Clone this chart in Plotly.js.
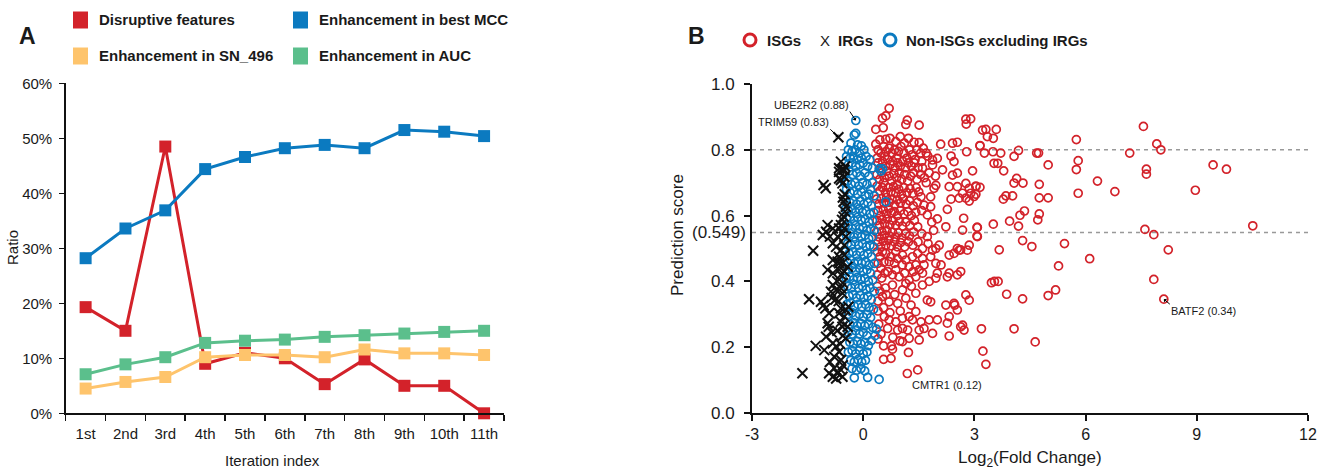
<!DOCTYPE html>
<html><head><meta charset="utf-8">
<script src="https://cdn.plot.ly/plotly-3.0.1.min.js"></script>
<style>html,body{margin:0;padding:0;background:#fff}#chart{width:1326px;height:470px}</style>
</head><body><div id="chart"></div>
<script>
// ---------- Panel A data ----------
const iterations = ['1st','2nd','3rd','4th','5th','6th','7th','8th','9th','10th','11th'];
const disruptiveFeatures = [19.3,15.0,48.5,9.0,11.0,10.0,5.3,9.8,5.0,5.0,0];
const bestMCC = [28.2,33.6,36.9,44.4,46.6,48.2,48.8,48.2,51.5,51.2,50.4];
const sn496 = [4.5,5.7,6.6,10.2,10.6,10.6,10.2,11.6,10.9,10.9,10.6];
const aucGain = [7.1,8.9,10.2,12.8,13.2,13.4,13.9,14.2,14.5,14.8,15.0];
const seriesNamesA = ['Disruptive features','Enhancement in best MCC','Enhancement in SN_496','Enhancement in AUC'];
const yTicksA = [0,10,20,30,40,50,60];
const yTickTextA = ['0%','10%','20%','30%','40%','50%','60%'];

// ---------- Panel B data: [log2 fold change, prediction score] ----------
const isgPoints = [
[0.70,0.926],[0.52,0.896],[0.61,0.903],[0.34,0.862],[0.54,0.867],[1.15,0.877],[1.19,0.89],[1.51,0.875],[2.77,0.893],[2.90,0.894],[2.78,0.878],[3.22,0.86],
[0.34,0.817],[0.61,0.832],[0.88,0.825],[1.11,0.82],[1.37,0.823],[1.51,0.822],[2.09,0.817],[2.41,0.82],[2.54,0.823],[2.79,0.794],[3.15,0.812],
[0.40,0.80],[0.48,0.79],[0.55,0.81],[0.62,0.795],[0.70,0.805],[0.78,0.79],[0.85,0.80],[0.95,0.795],[1.02,0.81],[1.10,0.79],[1.25,0.80],[1.32,0.785],[1.45,0.80],[1.55,0.79],[1.62,0.805],[1.70,0.79],[0.45,0.83],[0.72,0.835],[1.00,0.84],[1.22,0.835],[0.58,0.78],[0.90,0.775],[1.18,0.775],[1.40,0.77],[0.38,0.775],
[0.40,0.76],[0.47,0.745],[0.52,0.765],[0.60,0.75],[0.66,0.77],[0.73,0.755],[0.80,0.765],[0.86,0.745],[0.93,0.76],[1.00,0.75],[1.07,0.765],[1.14,0.745],[1.22,0.76],[1.30,0.75],[1.38,0.76],[1.48,0.745],[1.58,0.765],[1.74,0.781],[1.87,0.769],[2.00,0.774],[1.87,0.754],[2.37,0.781],[2.45,0.764],[2.14,0.739],[2.41,0.723],[2.54,0.729],[2.95,0.736],
[0.37,0.725],[0.44,0.71],[0.50,0.73],[0.57,0.715],[0.63,0.735],[0.70,0.72],[0.77,0.705],[0.83,0.728],[0.90,0.715],[0.97,0.73],[1.04,0.71],[1.12,0.725],[1.20,0.705],[1.28,0.72],[1.36,0.73],[1.45,0.71],[1.55,0.725],[1.65,0.715],[1.78,0.73],[1.95,0.72],[0.55,0.70],[0.92,0.695],[1.60,0.745],[1.70,0.70],
[2.32,0.688],[2.54,0.688],[2.77,0.698],[2.86,0.683],[3.04,0.688],[1.91,0.683],[1.96,0.692],[2.90,0.668],[2.68,0.668],[2.99,0.658],[2.37,0.65],[2.59,0.653],[2.77,0.653],[2.86,0.644],[2.27,0.619],[1.64,0.632],[1.82,0.627],[1.56,0.657],[1.82,0.657],[1.73,0.602],
[0.38,0.69],[0.45,0.675],[0.52,0.685],[0.60,0.67],[0.68,0.685],[0.75,0.672],[0.82,0.688],[0.88,0.668],[0.96,0.68],[1.03,0.665],[1.10,0.685],[1.18,0.67],[1.26,0.682],[1.34,0.668],[1.43,0.685],[1.50,0.672],
[0.36,0.65],[0.42,0.635],[0.49,0.652],[0.56,0.638],[0.63,0.655],[0.70,0.64],[0.78,0.65],[0.85,0.632],[0.92,0.648],[1.00,0.638],[1.08,0.652],[1.16,0.635],[1.25,0.645],[1.35,0.63],[1.46,0.64],
[0.40,0.615],[0.47,0.60],[0.54,0.618],[0.62,0.605],[0.69,0.62],[0.76,0.608],[0.84,0.612],[0.92,0.60],[1.00,0.615],[1.10,0.605],[1.20,0.612],[1.30,0.60],[1.42,0.61],[1.58,0.615],
[2.71,0.592],[2.23,0.566],[2.68,0.556],[3.08,0.564],[3.08,0.536],[2.86,0.51],[2.63,0.496],[2.54,0.50],[2.05,0.51],[1.96,0.50],[1.60,0.50],[1.73,0.536],[1.47,0.566],
[0.37,0.585],[0.44,0.57],[0.51,0.588],[0.58,0.575],[0.65,0.59],[0.72,0.572],[0.80,0.585],[0.88,0.57],[0.97,0.582],[1.06,0.568],[1.15,0.58],[1.26,0.57],[1.38,0.585],[1.85,0.58],[2.00,0.59],
[0.36,0.55],[0.43,0.535],[0.50,0.552],[0.57,0.54],[0.64,0.555],[0.71,0.538],[0.79,0.55],[0.87,0.535],[0.95,0.548],[1.04,0.532],[1.14,0.545],[1.25,0.538],[1.36,0.55],[1.58,0.545],[1.90,0.555],
[0.40,0.52],[0.47,0.505],[0.54,0.522],[0.61,0.51],[0.68,0.525],[0.76,0.508],[0.84,0.52],[0.92,0.505],[1.01,0.518],[1.12,0.505],[1.22,0.52],[1.34,0.51],[1.48,0.52],[1.75,0.515],
[0.61,0.485],[0.88,0.49],[1.06,0.48],[1.33,0.475],[1.47,0.485],[1.60,0.47],[1.82,0.475],[1.87,0.495],[2.32,0.48],[2.45,0.485],[2.59,0.495],[2.81,0.495],[0.70,0.46],[1.06,0.45],[1.24,0.445],[1.42,0.45],[1.51,0.435],[1.64,0.45],[1.96,0.455],[2.10,0.45],[2.32,0.425],[2.00,0.425],[2.27,0.414],[2.63,0.43],[2.54,0.42],[0.66,0.43],[0.79,0.42],[0.97,0.414],[1.24,0.404],[1.42,0.414],[1.60,0.425],[1.78,0.40],[1.96,0.41],
[0.38,0.49],[0.45,0.475],[0.52,0.49],[0.40,0.455],[0.48,0.44],[0.56,0.458],[0.75,0.475],[0.84,0.455],[0.92,0.47],[1.15,0.465],[0.38,0.42],[0.50,0.41],[0.58,0.425],[0.88,0.435],[1.12,0.425],[1.35,0.43],
[0.79,0.389],[1.06,0.374],[1.15,0.394],[1.42,0.364],[1.60,0.389],[1.73,0.343],[1.82,0.338],[2.23,0.328],[2.45,0.333],[2.54,0.313],[2.77,0.359],[2.86,0.343],[0.52,0.354],[0.70,0.338],[0.93,0.333],[1.15,0.349],[1.29,0.328],[1.42,0.308],
[0.38,0.385],[0.45,0.37],[0.60,0.38],[0.40,0.34],[0.62,0.36],[0.85,0.36],[0.40,0.31],[0.55,0.32],[0.72,0.305],[1.00,0.31],[1.30,0.385],
[0.57,0.293],[0.70,0.283],[0.88,0.277],[1.06,0.288],[1.24,0.293],[1.33,0.283],[1.56,0.277],[1.78,0.283],[2.00,0.283],[2.32,0.293],[2.27,0.273],[0.66,0.257],[0.93,0.252],[1.06,0.257],[1.20,0.252],[1.51,0.252],[1.64,0.257],[1.87,0.242],[2.32,0.234],[2.63,0.262],[2.72,0.252],[2.47,0.328],[2.68,0.267],[1.06,0.217],[1.24,0.227],[1.51,0.222],[0.99,0.219],[0.42,0.27],[0.48,0.24],[0.40,0.225],[0.80,0.23],
[0.79,0.194],[0.55,0.204],[0.76,0.204],[0.55,0.163],[0.75,0.166],[1.22,0.184],[1.47,0.131],[1.19,0.12],
[3.31,0.862],[3.59,0.862],[3.35,0.84],[3.51,0.835],[3.15,0.813],[3.27,0.79],[3.50,0.794],[3.71,0.79],[4.19,0.798],[4.07,0.78],[4.68,0.79],[4.73,0.79],[5.75,0.831],[5.80,0.767],[5.75,0.74],[7.19,0.79],[7.56,0.871],
[3.53,0.759],[3.63,0.759],[3.79,0.736],[4.99,0.754],[4.14,0.713],[4.07,0.699],[4.31,0.699],[4.75,0.695],[3.04,0.69],[3.15,0.686],[3.04,0.665],[3.85,0.66],[3.78,0.65],[4.03,0.66],[4.75,0.654],[4.99,0.654],[5.80,0.668],[6.32,0.705],[6.79,0.673],
[4.35,0.614],[4.23,0.601],[4.75,0.605],[4.71,0.587],[3.95,0.583],[4.19,0.568],[3.51,0.574],[3.07,0.564],[3.07,0.538],[4.30,0.524],[4.55,0.506],[5.43,0.515],[3.67,0.496],[6.11,0.469],[5.27,0.447],
[3.46,0.396],[3.54,0.40],[3.64,0.40],[3.87,0.361],[4.30,0.347],[4.99,0.357],[5.19,0.374],[3.19,0.256],[4.07,0.256],[4.64,0.216],[3.23,0.188],[3.31,0.148],
[7.92,0.818],[8.03,0.80],[7.64,0.741],[7.64,0.726],[9.44,0.754],[9.80,0.741],[8.96,0.677],[10.51,0.569],[7.60,0.558],[7.84,0.542],[8.23,0.496],[7.84,0.406],[8.11,0.346]
];
const irgPoints = [
[-0.67,0.838],
[-0.60,0.764],[-0.53,0.741],[-0.49,0.749],[-0.57,0.739],[-0.65,0.744],[-0.51,0.718],[-0.60,0.708],[-0.56,0.698],[-0.65,0.713],[-0.65,0.733],[-0.51,0.739],
[-1.07,0.693],[-1.01,0.683],
[-0.55,0.655],[-0.50,0.665],[-0.53,0.642],[-0.47,0.627],[-0.49,0.612],[-0.53,0.597],[-0.57,0.587],[-0.60,0.571],[-0.65,0.561],[-0.51,0.561],[-0.56,0.546],[-0.69,0.536],[-0.47,0.536],
[-0.96,0.571],[-0.82,0.561],[-1.09,0.541],[-0.90,0.536],[-1.00,0.551],
[-1.35,0.493],
[-0.82,0.516],[-0.73,0.505],[-0.60,0.495],[-0.51,0.51],[-0.65,0.475],[-0.51,0.48],[-0.82,0.465],[-0.69,0.46],[-0.56,0.455],[-0.96,0.435],[-0.82,0.425],[-0.65,0.435],[-0.51,0.43],[-0.42,0.445],[-0.65,0.455],[-0.60,0.42],
[-0.82,0.389],[-0.73,0.374],[-0.60,0.379],[-0.87,0.369],[-0.56,0.364],[-0.70,0.40],[-0.55,0.395],
[-1.46,0.346],[-1.14,0.338],[-1.07,0.328],[-1.02,0.318],[-0.92,0.303],[-0.75,0.345],[-0.66,0.34],[-0.85,0.35],
[-0.60,0.318],[-0.47,0.313],[-0.51,0.293],[-0.65,0.303],[-0.40,0.323],[-0.60,0.277],[-0.42,0.262],[-0.56,0.262],
[-0.96,0.273],[-0.93,0.262],[-1.00,0.232],[-0.70,0.25],[-0.85,0.245],[-0.55,0.235],[-0.62,0.21],
[-1.28,0.204],[-1.05,0.191],[-0.82,0.212],[-0.73,0.202],[-0.65,0.186],[-0.78,0.171],[-0.47,0.227],[-0.60,0.161],[-0.90,0.155],[-0.55,0.145],
[-1.64,0.121],[-0.92,0.121],[-0.78,0.136],[-0.69,0.121],[-0.60,0.131],[-0.73,0.105],[-0.56,0.11],[-0.82,0.11]
];
const nonIsgPoints = [
[-0.20,0.889],[-0.24,0.845],[-0.20,0.85],[-0.33,0.82],[-0.15,0.815],[-0.05,0.812],
[-0.40,0.80],[-0.30,0.795],[-0.22,0.80],[-0.10,0.79],[0.02,0.80],[-0.45,0.78],[-0.35,0.775],[-0.27,0.78],[-0.16,0.77],[-0.05,0.775],[0.08,0.78],[0.18,0.77],[-0.40,0.755],[-0.30,0.76],[-0.20,0.75],[-0.10,0.755],[0.00,0.76],[0.12,0.75],[0.25,0.745],[0.43,0.742],[0.52,0.742],[0.48,0.735],
[-0.48,0.73],[-0.38,0.735],[-0.28,0.725],[-0.18,0.73],[-0.08,0.72],[0.05,0.73],[0.15,0.72],[0.25,0.70],[-0.50,0.70],[-0.42,0.705],[-0.32,0.695],[-0.22,0.70],[-0.12,0.69],[-0.02,0.70],[0.10,0.695],[0.20,0.68],[-0.45,0.68],[-0.35,0.67],[-0.25,0.675],[-0.15,0.665],[-0.05,0.672],[0.05,0.66],[0.15,0.665],[0.30,0.66],[0.61,0.642],
[-0.45,0.65],[-0.36,0.64],[-0.27,0.645],[-0.18,0.635],[-0.08,0.645],[0.02,0.635],[0.12,0.64],[0.22,0.63],[-0.48,0.62],[-0.40,0.615],[-0.30,0.62],[-0.20,0.61],[-0.11,0.62],[-0.02,0.61],[0.08,0.615],[0.18,0.605],[0.28,0.61],[-0.44,0.59],[-0.35,0.595],[-0.25,0.585],[-0.15,0.595],[-0.05,0.585],[0.05,0.59],[0.15,0.58],[0.25,0.585],[-0.50,0.565],[-0.40,0.57],[-0.30,0.56],[-0.20,0.57],[-0.10,0.56],[0.00,0.565],[0.10,0.555],[0.20,0.56],[0.30,0.555],
[-0.45,0.54],[-0.35,0.545],[-0.25,0.535],[-0.15,0.545],[-0.05,0.535],[0.05,0.54],[0.15,0.53],[0.25,0.535],[-0.42,0.515],[-0.32,0.51],[-0.22,0.52],[-0.12,0.51],[-0.02,0.515],[0.08,0.505],[0.18,0.51],[0.28,0.505],[-0.48,0.49],[-0.38,0.485],[-0.28,0.49],[-0.18,0.48],[-0.08,0.49],[0.02,0.48],[0.12,0.485],[0.22,0.475],[-0.44,0.46],[-0.34,0.465],[-0.24,0.455],[-0.14,0.462],[-0.04,0.455],[0.06,0.46],[0.16,0.45],[0.30,0.455],
[-0.40,0.435],[-0.30,0.44],[-0.20,0.43],[-0.10,0.44],[0.00,0.43],[0.10,0.435],[0.20,0.425],[-0.46,0.41],[-0.36,0.415],[-0.26,0.405],[-0.16,0.412],[-0.06,0.405],[0.04,0.41],[0.14,0.40],[0.26,0.405],[-0.42,0.385],[-0.32,0.38],[-0.22,0.39],[-0.12,0.38],[-0.02,0.385],[0.08,0.375],[0.18,0.38],[0.30,0.37],[-0.38,0.355],[-0.28,0.36],[-0.18,0.35],[-0.08,0.358],[0.02,0.35],[0.12,0.355],[0.22,0.345],
[-0.44,0.33],[-0.34,0.335],[-0.24,0.325],[-0.14,0.33],[-0.04,0.322],[0.06,0.33],[0.16,0.32],[0.28,0.315],[-0.40,0.30],[-0.30,0.305],[-0.20,0.295],[-0.10,0.30],[0.00,0.292],[0.10,0.30],[0.20,0.29],[-0.36,0.27],[-0.26,0.275],[-0.16,0.265],[-0.06,0.272],[0.04,0.265],[0.14,0.27],[0.26,0.26],[0.36,0.255],
[-0.40,0.245],[-0.30,0.24],[-0.20,0.25],[-0.10,0.24],[0.00,0.245],[0.10,0.235],[0.22,0.22],[0.32,0.235],[-0.36,0.215],[-0.26,0.21],[-0.16,0.218],[-0.06,0.21],[0.04,0.215],[0.14,0.205],[-0.40,0.185],[-0.30,0.19],[-0.20,0.18],[-0.10,0.19],[0.00,0.18],[0.10,0.185],[-0.34,0.16],[-0.24,0.155],[-0.14,0.162],[-0.04,0.155],[0.06,0.16],
[-0.30,0.135],[-0.18,0.13],[-0.06,0.135],[0.04,0.128],[-0.24,0.107],[0.12,0.108],[0.43,0.102]
];
const thresholds = [0.8, 0.549];
const labelledGenes = [
  {name:'UBE2R2 (0.88)', x:-0.20, y:0.889},
  {name:'TRIM59 (0.83)', x:-0.67, y:0.838},
  {name:'CMTR1 (0.12)', x:1.19, y:0.12},
  {name:'BATF2 (0.34)', x:8.11, y:0.346}
];
const xTicksB = [-3,0,3,6,9,12];
const yTicksB = [0,0.2,0.4,0.6,0.8,1.0];
const yTickTextB = ['0.0','0.2','0.4','0.6','0.8','1.0'];

// ---------- styling ----------
const W = 1326, H = 470;
const FONT = 'Liberation Sans, Arial, Helvetica, sans-serif';
const INK = '#1a1a1a';
const RED = '#d3222a', BLUE = '#0b7ac0', YEL = '#fec46c', GRN = '#5bbf8c';
const px = v => v / W, py = v => 1 - v / H;

const colorsA = [RED, BLUE, YEL, GRN];
const seriesA = [disruptiveFeatures, bestMCC, sn496, aucGain];
const traces = [0, 1, 2, 3].map(i => ({
  type:'scatter', mode:'lines+markers', x: iterations, y: seriesA[i], name: seriesNamesA[i],
  xaxis:'x', yaxis:'y', cliponaxis:false, showlegend:false,
  line:{color: colorsA[i], width:3},
  marker:{symbol:'square', size:12, color: colorsA[i]}
}));

const mk = (pts, k) => pts.map(p => p[k]);
traces.push({type:'scatter', mode:'markers', x: mk(isgPoints,0), y: mk(isgPoints,1), xaxis:'x2', yaxis:'y2', showlegend:false, name:'ISGs',
  marker:{symbol:'circle-open', size:8, color:RED, line:{width:1.7}}});
traces.push({type:'scatter', mode:'markers', x: mk(nonIsgPoints,0), y: mk(nonIsgPoints,1), xaxis:'x2', yaxis:'y2', showlegend:false, name:'Non-ISGs excluding IRGs',
  marker:{symbol:'circle-open', size:8, color:BLUE, line:{width:1.7}}});
traces.push({type:'scatter', mode:'markers', x: mk(irgPoints,0), y: mk(irgPoints,1), xaxis:'x2', yaxis:'y2', showlegend:false, name:'IRGs',
  marker:{symbol:'x-thin-open', size:10, color:'#111', line:{width:2, color:'#111'}}});

const shapes = [];
const annotations = [];
thresholds.forEach(t => shapes.push({type:'line', xref:'x2', yref:'y2', x0:-3, x1:12, y0:t, y1:t,
  line:{color:'#999', width:1.5, dash:'4px,4px'}, layer:'below'}));

// Legend A (2 x 2)
const legA = [
  {c:RED, t:seriesNamesA[0], x:73, y:20},
  {c:BLUE, t:seriesNamesA[1], x:293, y:20},
  {c:YEL, t:seriesNamesA[2], x:73, y:56},
  {c:GRN, t:seriesNamesA[3], x:293, y:56}
];
legA.forEach(l => {
  shapes.push({type:'rect', xref:'paper', yref:'paper', x0:px(l.x), x1:px(l.x+15), y0:py(l.y+8.5), y1:py(l.y-8.5), fillcolor:l.c, line:{width:0}});
  annotations.push({xref:'paper', yref:'paper', x:px(l.x+24), y:py(l.y), xanchor:'left', yanchor:'middle', showarrow:false,
    text:'<b>'+l.t+'</b>', font:{family:FONT, size:15, color:INK}});
});
// Legend B
shapes.push({type:'circle', xref:'paper', yref:'paper', x0:px(744), x1:px(756), y0:py(46), y1:py(34), line:{color:RED, width:3}});
shapes.push({type:'circle', xref:'paper', yref:'paper', x0:px(884), x1:px(896), y0:py(46), y1:py(34), line:{color:BLUE, width:3}});
annotations.push({xref:'paper', yref:'paper', x:px(765), y:py(40), xanchor:'left', yanchor:'middle', showarrow:false, text:'<b>ISGs</b>', font:{family:FONT, size:15, color:INK}});
annotations.push({xref:'paper', yref:'paper', x:px(818), y:py(40), xanchor:'left', yanchor:'middle', showarrow:false, text:'X', font:{family:FONT, size:15, color:INK}});
annotations.push({xref:'paper', yref:'paper', x:px(836), y:py(40), xanchor:'left', yanchor:'middle', showarrow:false, text:'<b>IRGs</b>', font:{family:FONT, size:15, color:INK}});
annotations.push({xref:'paper', yref:'paper', x:px(904), y:py(40), xanchor:'left', yanchor:'middle', showarrow:false, text:'<b>Non-ISGs excluding IRGs</b>', font:{family:FONT, size:15, color:INK}});
// Panel letters
annotations.push({xref:'paper', yref:'paper', x:px(27), y:py(36), xanchor:'center', yanchor:'middle', showarrow:false, text:'<b>A</b>', font:{family:FONT, size:23, color:INK}});
annotations.push({xref:'paper', yref:'paper', x:px(696), y:py(36), xanchor:'center', yanchor:'middle', showarrow:false, text:'<b>B</b>', font:{family:FONT, size:23, color:INK}});
// Axis titles
annotations.push({xref:'paper', yref:'paper', x:px(12), y:py(248), xanchor:'center', yanchor:'middle', showarrow:false, textangle:-90, text:'Ratio', font:{family:FONT, size:15, color:INK}});
annotations.push({xref:'paper', yref:'paper', x:px(272), y:py(460), xanchor:'center', yanchor:'middle', showarrow:false, text:'Iteration index', font:{family:FONT, size:15, color:INK}});
annotations.push({xref:'paper', yref:'paper', x:px(677), y:py(235), xanchor:'center', yanchor:'middle', showarrow:false, textangle:-90, text:'Prediction score', font:{family:FONT, size:17, color:INK}});
annotations.push({xref:'paper', yref:'paper', x:px(1030), y:py(459), xanchor:'center', yanchor:'middle', showarrow:false, text:'Log<sub>2</sub>(Fold Change)', font:{family:FONT, size:17, color:INK}});
// threshold label
annotations.push({xref:'paper', yref:'y2', x:px(748), y:thresholds[1], xanchor:'right', yanchor:'middle', showarrow:false, text:'(0.549)', font:{family:FONT, size:17, color:INK}});
// gene labels
const geneOffsets = [
  {ax:-6, ay:-9, xa:'right', ya:'bottom'},
  {ax:-8, ay:-8, xa:'right', ya:'bottom'},
  {ax:4, ay:4, xa:'left', ya:'top'},
  {ax:6, ay:5, xa:'left', ya:'top'}
];
labelledGenes.forEach((g, i) => {
  const o = geneOffsets[i];
  annotations.push({xref:'x2', yref:'y2', x:g.x, y:g.y, ax:o.ax, ay:o.ay, axref:'pixel', ayref:'pixel',
    xanchor:o.xa, yanchor:o.ya, text:g.name, showarrow:true, arrowhead:1, arrowsize:0.8, arrowwidth:1, arrowcolor:'#000',
    standoff:0, borderpad:0, font:{family:FONT, size:11, color:INK}});
});

const axisCommon = {showline:true, linecolor:'#111', ticks:'outside', tickcolor:'#111', showgrid:false, zeroline:false,
  tickfont:{family:FONT, size:15, color:INK}, fixedrange:true};

const layout = {
  width:W, height:H, margin:{l:0, r:0, t:0, b:0}, paper_bgcolor:'#fff', plot_bgcolor:'rgba(0,0,0,0)',
  showlegend:false, font:{family:FONT, color:INK},
  xaxis: Object.assign({}, axisCommon, {domain:[px(65.7), px(504)], type:'category', range:[-0.5, 10.5], tickson:'boundaries',
    ticklen:6, linewidth:1.5, tickwidth:1.5, anchor:'y', ticklabelstandoff:6, tickangle:0}),
  yaxis: Object.assign({}, axisCommon, {domain:[py(413.3), py(83.3)], range:[0, 60], tickmode:'array', tickvals:yTicksA, ticktext:yTickTextA,
    ticklen:5, linewidth:1.5, tickwidth:1.5, anchor:'x', ticklabelstandoff:4}),
  xaxis2: Object.assign({}, axisCommon, {domain:[px(752), px(1308)], range:[-3, 12], tickmode:'array', tickvals:xTicksB, ticktext:xTicksB.map(String),
    ticklen:6, linewidth:2, tickwidth:2, anchor:'y2', tickangle:0, tickfont:{family:FONT, size:16, color:INK}}),
  yaxis2: Object.assign({}, axisCommon, {domain:[py(413), py(84)], range:[0, 1], tickmode:'array', tickvals:yTicksB, ticktext:yTickTextB,
    ticklen:6, linewidth:2, tickwidth:2, anchor:'x2', tickfont:{family:FONT, size:17, color:INK}, ticklabelstandoff:6}),
  shapes: shapes,
  annotations: annotations
};

Plotly.newPlot('chart', traces, layout, {staticPlot:true, displayModeBar:false});
</script>
</body></html>
